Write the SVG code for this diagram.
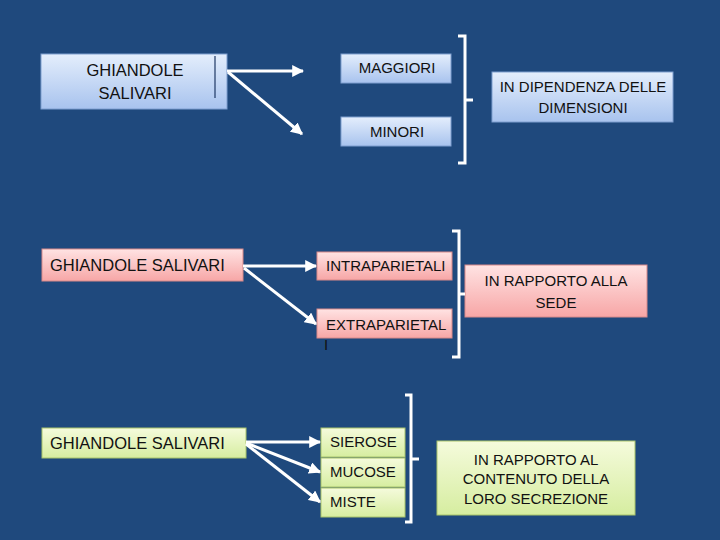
<svg xmlns="http://www.w3.org/2000/svg" width="720" height="540" viewBox="0 0 720 540">
<defs>
<linearGradient id="gb" x1="0" y1="0" x2="0" y2="1"><stop offset="0" stop-color="#e4eefc"/><stop offset="1" stop-color="#a8c3ee"/></linearGradient>
<linearGradient id="gp" x1="0" y1="0" x2="0" y2="1"><stop offset="0" stop-color="#ffe3e3"/><stop offset="1" stop-color="#f7a6a6"/></linearGradient>
<linearGradient id="gg" x1="0" y1="0" x2="0" y2="1"><stop offset="0" stop-color="#f5fbdc"/><stop offset="1" stop-color="#d6eda0"/></linearGradient>
<marker id="ah" viewBox="0 0 10 10" refX="9" refY="5" markerWidth="4" markerHeight="4" orient="auto" markerUnits="strokeWidth"><path d="M0,0 L10,5 L0,10 z" fill="#ffffff"/></marker>
</defs>
<style>
.b{fill:url(#gb);stroke:#7f9fd0;stroke-width:1}
.p{fill:url(#gp);stroke:#d98a8a;stroke-width:1}
.g{fill:url(#gg);stroke:#a9c46a;stroke-width:1}
text{font-family:"Liberation Sans",Arial,sans-serif;font-size:15px;fill:#111111}
.c{text-anchor:middle}
.big{font-size:16.5px}
.cn line{stroke:#ffffff;stroke-width:3;marker-end:url(#ah)}
.br{fill:none;stroke:#ffffff;stroke-width:3}
</style>
<rect width="720" height="540" fill="#1f497d"/>

<g id="n1">
<rect class="b" x="41" y="54" width="186" height="55"/>
<line x1="215" y1="56" x2="215" y2="98" stroke="#1f3864" stroke-width="1.2"/>
<text class="c big" x="135" y="76">GHIANDOLE</text>
<text class="c big" x="135" y="99">SALIVARI</text>
</g>
<g id="n2"><rect class="b" x="341" y="54" width="110" height="29"/><text class="c" x="397" y="73">MAGGIORI</text></g>
<g id="n3"><rect class="b" x="341" y="117" width="110" height="29"/><text class="c" x="397" y="137">MINORI</text></g>
<g id="n4"><rect class="b" x="492" y="72" width="181" height="50"/><text class="c" x="583" y="92">IN DIPENDENZA DELLE</text><text class="c" x="583" y="113">DIMENSIONI</text></g>

<g id="n5"><rect class="p" x="42" y="249" width="201" height="32"/><text class="big" x="50" y="271">GHIANDOLE SALIVARI</text></g>
<g id="n6"><rect class="p" x="317" y="252" width="135" height="28"/><text x="326" y="271">INTRAPARIETALI</text></g>
<g id="n7"><rect class="p" x="317" y="309" width="135" height="29"/><text x="326" y="330">EXTRAPARIETAL</text><text x="324" y="350">I</text></g>
<g id="n8"><rect class="p" x="465" y="265" width="182" height="52"/><text class="c" x="556" y="286">IN RAPPORTO ALLA</text><text class="c" x="556" y="308">SEDE</text></g>

<g id="n9"><rect class="g" x="42" y="428" width="204" height="30"/><text class="big" x="50" y="449">GHIANDOLE SALIVARI</text></g>
<g id="n10"><rect class="g" x="321" y="428" width="84" height="29"/><text x="330" y="447">SIEROSE</text></g>
<g id="n11"><rect class="g" x="321" y="458" width="84" height="29"/><text x="330" y="477">MUCOSE</text></g>
<g id="n12"><rect class="g" x="321" y="488" width="84" height="29"/><text x="330" y="507">MISTE</text></g>
<g id="n13"><rect class="g" x="437" y="441" width="198" height="74"/><text class="c" x="536" y="465">IN RAPPORTO AL</text><text class="c" x="536" y="484">CONTENUTO DELLA</text><text class="c" x="536" y="504">LORO SECREZIONE</text></g>

<g id="connectors">
<g class="cn">
<line x1="227" y1="71" x2="303" y2="71"/>
<line x1="228" y1="72" x2="302" y2="134"/>
<line x1="243" y1="266" x2="316" y2="266"/>
<line x1="244" y1="268" x2="316" y2="324"/>
<line x1="246" y1="442" x2="320" y2="442"/>
<line x1="246" y1="443" x2="320" y2="472"/>
<line x1="246" y1="444" x2="320" y2="502"/>
</g>
<path class="br" d="M458,36 H465 V163 H458 M465,100 H473"/>
<path class="br" d="M452,231 H459 V357 H452 M459,294 H465"/>
<path class="br" d="M405,395 H411 V522 H405 M411,459 H419"/>
</g>
</svg>
